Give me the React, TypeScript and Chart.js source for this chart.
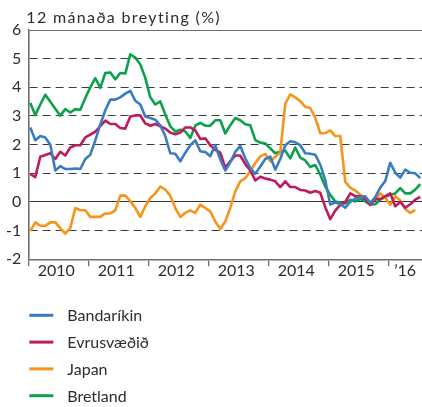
import React, { useEffect, useRef } from "react";
import { Chart, registerables } from "chart.js";

Chart.register(...registerables);

// Monthly data, Jan 2010 onwards
const bandarikin = [
  2.6, 2.15, 2.3, 2.25, 2.0, 1.1, 1.25, 1.15, 1.15, 1.17, 1.15, 1.5,
  1.65, 2.15, 2.7, 3.2, 3.57, 3.57, 3.65, 3.78, 3.88, 3.53, 3.4, 2.98,
  2.93, 2.87, 2.67, 2.3, 1.7, 1.68, 1.42, 1.72, 1.98, 2.15, 1.77, 1.74,
  1.6, 1.98, 1.48, 1.1, 1.38, 1.75, 1.96, 1.52, 1.18, 0.98, 1.24, 1.5,
  1.58, 1.13, 1.5, 1.98, 2.12, 2.08, 1.98, 1.7, 1.68, 1.65, 1.3, 0.76,
  -0.09, -0.02, -0.07, -0.2, 0.0, 0.12, 0.17, 0.2, -0.04, 0.17, 0.5, 0.73,
  1.37, 1.02, 0.85, 1.13, 1.02, 1.0, 0.83,
];
const evrusvaedid = [
  0.97, 0.87, 1.58, 1.64, 1.7, 1.5, 1.75, 1.62, 1.9, 1.98, 1.98, 2.25,
  2.35, 2.45, 2.65, 2.84, 2.72, 2.72, 2.58, 2.56, 2.98, 3.02, 3.02, 2.74,
  2.66, 2.72, 2.64, 2.56, 2.42, 2.36, 2.42, 2.6, 2.6, 2.5, 2.2, 2.22,
  1.98, 1.82, 1.72, 1.2, 1.42, 1.62, 1.62, 1.32, 1.1, 0.75, 0.88, 0.82,
  0.78, 0.72, 0.52, 0.72, 0.52, 0.52, 0.42, 0.4, 0.32, 0.38, 0.32, -0.18,
  -0.6, -0.3, -0.1, 0.0, 0.3, 0.2, 0.2, 0.1, -0.1, 0.1, 0.1, 0.2,
  0.3, -0.15, 0.0, -0.2, -0.08, 0.08, 0.18,
];
const japan = [
  -1.02, -0.71, -0.83, -0.83, -0.71, -0.71, -0.91, -1.1, -0.91, -0.21, -0.29, -0.29,
  -0.52, -0.52, -0.52, -0.4, -0.4, -0.29, 0.22, 0.22, 0.03, -0.21, -0.52, -0.15,
  0.14, 0.3, 0.54, 0.43, 0.22, -0.21, -0.52, -0.38, -0.29, -0.38, -0.09, -0.21,
  -0.33, -0.68, -0.94, -0.68, -0.21, 0.37, 0.72, 0.83, 1.07, 1.36, 1.59, 1.68,
  1.42, 1.58, 1.72, 3.43, 3.75, 3.65, 3.52, 3.32, 3.28, 2.93, 2.4, 2.4,
  2.5, 2.3, 2.3, 0.7, 0.5, 0.4, 0.25, 0.15, 0.0, 0.08, 0.3, 0.14,
  -0.1, 0.2, 0.05, -0.25, -0.38, -0.28,
];
const bretland = [
  3.45, 3.03, 3.4, 3.74, 3.5, 3.25, 3.01, 3.24, 3.12, 3.24, 3.22, 3.63,
  4.0, 4.32, 3.98, 4.5, 4.52, 4.28, 4.5, 4.48, 5.15, 5.04, 4.8, 4.33,
  3.65, 3.4, 3.51, 3.05, 2.64, 2.46, 2.52, 2.46, 2.23, 2.66, 2.76, 2.66,
  2.66, 2.85, 2.85, 2.39, 2.68, 2.93, 2.85, 2.71, 2.68, 2.16, 2.07, 2.04,
  1.87, 1.7, 1.75, 1.79, 1.52, 1.9, 1.55, 1.45, 1.22, 1.29, 0.95, 0.54,
  0.25, 0.02, -0.02, -0.05, 0.08, 0.02, 0.1, 0.02, -0.09, -0.08, 0.08, 0.18,
  0.25, 0.3, 0.48, 0.3, 0.3, 0.43, 0.62,
];

const yearLabels = ["2010", "2011", "2012", "2013", "2014", "2015", "\u201916"];
const seriesNames = ["Bandaríkin", "Evrusvæðið", "Japan", "Bretland"];
const seriesColors = ["#3a7cc2", "#bf1a5f", "#f7941d", "#0ba14b"];
const titleText = "12 mánaða breyting (%)";

const X_MIN = -0.4;
const X_MAX = 78.35;
const FONT = "Lato, 'Open Sans', sans-serif";
const TEXT = "#2d2d2d";

const toPoints = (arr: number[]) => arr.map((v, i) => ({ x: i, y: v }));

const overlayPlugin = {
  id: "overlay",
  afterDraw(chart: any) {
    const ctx = chart.ctx as CanvasRenderingContext2D;
    const area = chart.chartArea;
    ctx.save();
    ctx.fillStyle = TEXT;
    ctx.font = `16px ${FONT}`;
    ctx.textBaseline = "alphabetic";
    ctx.textAlign = "left";
    (ctx as any).letterSpacing = "1.35px";
    ctx.fillText(titleText, area.left - 2, area.top - 7.5);
    (ctx as any).letterSpacing = "0px";
    const legendTop = area.bottom + 56;
    seriesNames.forEach((name, i) => {
      const y = legendTop + i * 26.8;
      ctx.strokeStyle = seriesColors[i];
      ctx.lineWidth = 3;
      ctx.beginPath();
      ctx.moveTo(area.left + 1, y);
      ctx.lineTo(area.left + 25, y);
      ctx.stroke();
      ctx.fillStyle = TEXT;
      ctx.textBaseline = "middle";
      ctx.fillText(name, area.left + 39, y + 1);
    });
    ctx.restore();
  },
};

export default function App() {
  const ref = useRef<HTMLCanvasElement | null>(null);
  useEffect(() => {
    if (!ref.current) return;
    const series = [bandarikin, evrusvaedid, japan, bretland];
    const chart = new Chart(ref.current, {
      type: "line",
      data: {
        datasets: series.map((s, i) => ({
          label: seriesNames[i],
          data: toPoints(s),
          borderColor: seriesColors[i],
          backgroundColor: seriesColors[i],
          borderWidth: 2.6,
          pointRadius: 0,
          tension: 0,
          fill: false,
          borderJoinStyle: "round" as const,
        })),
      },
      options: {
        animation: false,
        responsive: false,
        devicePixelRatio: 1,
        layout: { padding: { top: 30, left: 0, right: 0, bottom: 125.7 } },
        plugins: {
          legend: { display: false },
          tooltip: { enabled: false },
          title: { display: false },
        },
        scales: {
          x: {
            type: "linear",
            position: "bottom",
            min: X_MIN,
            max: X_MAX,
            afterBuildTicks: (scale: any) => {
              scale.ticks = yearLabels.map((_, k) => ({ value: X_MIN + 12 * k }));
            },
            afterFit: (scale: any) => {
              scale.height = 2;
            },
            ticks: { display: false },
            grid: {
              drawOnChartArea: false,
              drawTicks: true,
              tickLength: 7,
              color: "#6f6f6f",
              lineWidth: 1.3,
            },
            border: { display: true, color: "#6f6f6f", width: 1.6 },
          },
          x2: {
            type: "linear",
            position: "bottom",
            min: X_MIN,
            max: X_MAX,
            afterBuildTicks: (scale: any) => {
              scale.ticks = yearLabels.map((_, k) => ({
                value: k < 6 ? X_MIN + 12 * k + 5.6 : (X_MIN + 72 + X_MAX) / 2,
              }));
            },
            afterFit: (scale: any) => {
              scale.height = 20;
            },
            ticks: {
              autoSkip: false,
              maxRotation: 0,
              padding: 0,
              color: TEXT,
              font: { family: FONT, size: 16 },
              callback: (_v: any, idx: number) => yearLabels[idx],
            },
            grid: { display: false, drawTicks: false },
            border: { display: false },
          },
          y: {
            min: -2,
            max: 6,
            afterFit: (scale: any) => {
              scale.width = 28.3;
            },
            ticks: {
              stepSize: 1,
              padding: 7,
              color: TEXT,
              font: { family: FONT, size: 16 },
            },
            grid: {
              drawTicks: false,
              lineWidth: 1,
              color: (ctx: any) => {
                const v = ctx.tick ? ctx.tick.value : null;
                if (v === 0) return "#333333";
                if (v === 6) return "#6f6f6f";
                if (v === -2) return "rgba(0,0,0,0)";
                return "#3c3c3c";
              },
            },
            border: {
              display: true,
              color: "#6f6f6f",
              width: 1.6,
              dash: (ctx: any) => {
                if (!ctx.tick) return [];
                const v = ctx.tick.value;
                return v === 0 || v === 6 || v === -2 ? [] : [8, 5];
              },
            },
          },
        },
      },
      plugins: [overlayPlugin],
    } as any);
    return () => chart.destroy();
  }, []);
  return (
    <div style={{ position: "absolute", left: 0, top: 0, width: 422, height: 407, background: "#fff" }}>
      <canvas ref={ref} width={422} height={407} style={{ display: "block" }} />
    </div>
  );
}
